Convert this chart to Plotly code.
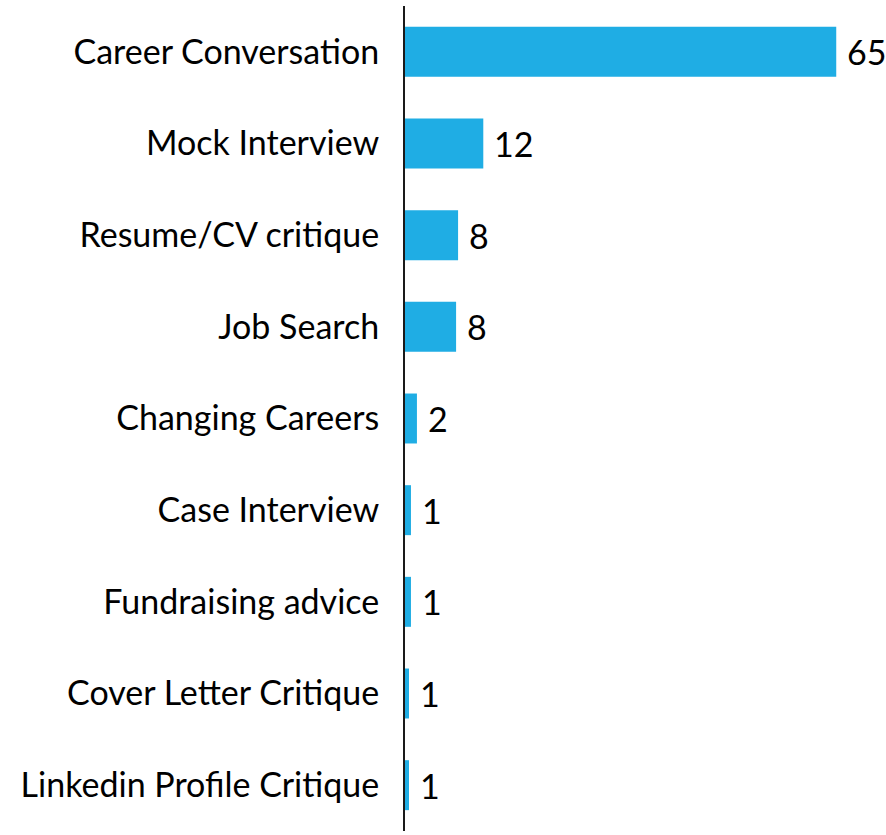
import plotly.graph_objects as go

categories = ["Career Conversation", "Mock Interview", "Resume/CV critique", "Job Search",
              "Changing Careers", "Case Interview", "Fundraising advice",
              "Cover Letter Critique", "Linkedin Profile Critique"]
values = [65, 11.8, 8.0, 7.7, 1.8, 0.9, 0.9, 0.6, 0.6]
labels = ["65", "12", "8", "8", "2", "1", "1", "1", "1"]

FONT = "Lato"
BAR_COLOR = "#1FADE4"

fig = go.Figure()
fig.add_trace(go.Bar(
    x=values, y=categories, orientation="h",
    marker=dict(color=BAR_COLOR, line=dict(width=0)),
    hoverinfo="skip",
))

for c, v, t in zip(categories, values, labels):
    fig.add_annotation(x=v, y=c, text=t, showarrow=False, xanchor="left",
                       xshift=9, font=dict(family=FONT, size=34, color="#000000"))

fig.update_layout(
    width=886, height=835,
    margin=dict(l=405, r=0, t=6, b=4),
    plot_bgcolor="white", paper_bgcolor="white",
    bargap=0.455,
    showlegend=False,
    font=dict(family=FONT, size=34, color="#000000"),
)
fig.update_xaxes(range=[0, 72.5], visible=False, showgrid=False, zeroline=False)
fig.update_yaxes(categoryorder="array", categoryarray=categories, autorange="reversed",
                 showline=True, linecolor="#1a1a1a", linewidth=2, showgrid=False,
                 ticks="", ticklabelstandoff=17, zeroline=False,
                 tickfont=dict(family=FONT, size=34, color="#000000"))

fig.write_html("out.html", config={"displayModeBar": False},
               post_script="document.body.style.margin='0';")
